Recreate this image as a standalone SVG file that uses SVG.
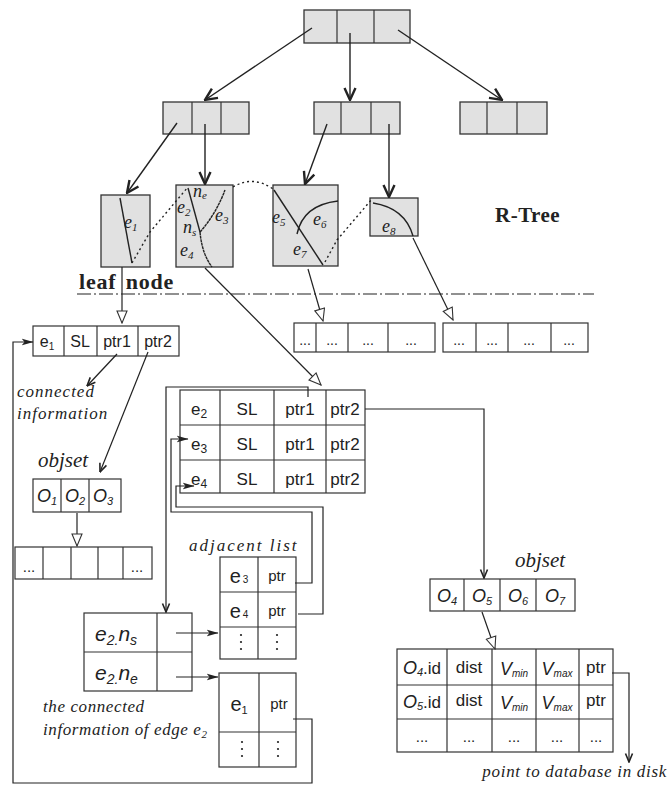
<svg xmlns="http://www.w3.org/2000/svg" width="668" height="786" viewBox="0 0 668 786">
<defs>
<style>
.tn{fill:#e1e1e1;stroke:#333;stroke-width:1.3}
.lf{fill:#e1e1e1;stroke:#333;stroke-width:1.3}
.tb{fill:#fff;stroke:#333;stroke-width:1.2}
.dv{stroke:#333;stroke-width:1.2}
.ln{fill:none;stroke:#222;stroke-width:1.2}
.tl{fill:none;stroke:#222;stroke-width:1.4}
.cv{fill:none;stroke:#222;stroke-width:1.4}
.dot{fill:none;stroke:#222;stroke-width:1.4;stroke-dasharray:2,3}
.ser{font-family:"Liberation Serif","Times New Roman",serif;font-style:italic;fill:#222}
.bold{font-family:"Liberation Serif","Times New Roman",serif;font-weight:bold;fill:#222}
.sans{font-family:"Liberation Sans",Arial,sans-serif;fill:#222}
.it{font-family:"Liberation Sans",Arial,sans-serif;font-style:italic;fill:#222}
</style>
<marker id="v" viewBox="0 0 14 14" refX="13" refY="7" markerWidth="14" markerHeight="14" orient="auto" markerUnits="userSpaceOnUse">
<path d="M1,1.5 L13,7 L1,12.5" fill="none" stroke="#222" stroke-width="2.4"/>
</marker>
<marker id="vs" viewBox="0 0 10 10" refX="9.5" refY="5" markerWidth="10" markerHeight="10" orient="auto" markerUnits="userSpaceOnUse">
<path d="M1,1.5 L9.5,5 L1,8.5" fill="none" stroke="#222" stroke-width="1.6"/>
</marker>
<marker id="f" viewBox="0 0 12 8" refX="11.5" refY="4" markerWidth="12" markerHeight="8" orient="auto" markerUnits="userSpaceOnUse">
<path d="M0,0.5 L12,4 L0,7.5 L3,4 z" fill="#222"/>
</marker>
<marker id="o" viewBox="0 0 14 12" refX="13" refY="6" markerWidth="14" markerHeight="12" orient="auto" markerUnits="userSpaceOnUse">
<path d="M1,1 L13,6 L1,11 z" fill="#fff" stroke="#333" stroke-width="1.1"/>
</marker>
</defs>
<rect width="668" height="786" fill="#fff"/>

<!-- R-tree nodes -->
<g id="root"><rect class="tn" x="304" y="10" width="106" height="33"/><line class="dv" x1="337" y1="10" x2="337" y2="43"/><line class="dv" x1="374" y1="10" x2="374" y2="43"/></g>
<g id="n1"><rect class="tn" x="163" y="102" width="86" height="32"/><line class="dv" x1="192" y1="102" x2="192" y2="134"/><line class="dv" x1="221" y1="102" x2="221" y2="134"/></g>
<g id="n2"><rect class="tn" x="314" y="102" width="86" height="32"/><line class="dv" x1="341" y1="102" x2="341" y2="134"/><line class="dv" x1="371" y1="102" x2="371" y2="134"/></g>
<g id="n3"><rect class="tn" x="460" y="102" width="87" height="32"/><line class="dv" x1="487" y1="102" x2="487" y2="134"/><line class="dv" x1="517" y1="102" x2="517" y2="134"/></g>

<!-- leaf nodes -->
<g id="leaf1"><rect class="lf" x="101" y="195" width="49" height="72"/>
<line class="cv" x1="120" y1="198" x2="132" y2="263"/>
<text class="ser" x="124" y="228" font-size="18">e<tspan font-size="11" dy="3">1</tspan></text></g>
<g id="leaf2"><rect class="lf" x="176" y="185" width="57" height="82"/>
<line class="cv" x1="188" y1="188" x2="200" y2="232"/>
<path class="cv" d="M200,232 Q216,214 225,190" stroke-dasharray="3,0.6"/>
<path class="cv" d="M200,232 Q202,254 212,267" stroke-dasharray="3,0.6"/>
<text class="ser" x="193" y="197" font-size="18">n<tspan font-size="11" dy="2">e</tspan></text>
<text class="ser" x="177" y="213" font-size="18">e<tspan font-size="11" dy="3">2</tspan></text>
<text class="ser" x="215" y="221" font-size="18">e<tspan font-size="11" dy="3">3</tspan></text>
<text class="ser" x="183" y="233" font-size="18">n<tspan font-size="11" dy="3">s</tspan></text>
<text class="ser" x="180" y="256" font-size="18">e<tspan font-size="11" dy="3">4</tspan></text></g>
<g id="leaf3"><rect class="lf" x="273" y="185" width="65" height="81"/>
<line class="cv" x1="274" y1="190" x2="323" y2="265"/>
<path class="cv" d="M297,234 Q303,205 338,201"/>
<text class="ser" x="272" y="223" font-size="18">e<tspan font-size="11" dy="3">5</tspan></text>
<text class="ser" x="313" y="225" font-size="18">e<tspan font-size="11" dy="3">6</tspan></text>
<text class="ser" x="293" y="255" font-size="18">e<tspan font-size="11" dy="3">7</tspan></text></g>
<g id="leaf4"><rect class="lf" x="370" y="198" width="48" height="38"/>
<path class="cv" d="M373,203 Q405,208 413,236"/>
<text class="ser" x="382" y="232" font-size="18">e<tspan font-size="11" dy="3">8</tspan></text></g>

<!-- labels -->
<text id="lbl-leaf" class="bold" x="79" y="289" font-size="22" letter-spacing="0.8" word-spacing="3">leaf node</text>
<text id="lbl-rtree" class="bold" x="495" y="222" font-size="21" letter-spacing="0.5">R-Tree</text>
<line x1="77" y1="294" x2="594" y2="294" stroke="#222" stroke-width="1.2" stroke-dasharray="14,3,2,3"/>

<!-- data blocks -->
<g id="blk1"><rect class="tb" x="294" y="323" width="141" height="29"/>
<line class="dv" x1="316" y1="323" x2="316" y2="352"/><line class="dv" x1="348" y1="323" x2="348" y2="352"/><line class="dv" x1="388" y1="323" x2="388" y2="352"/>
<g class="sans" font-size="14" text-anchor="middle"><text x="305" y="345">...</text><text x="332" y="345">...</text><text x="368" y="345">...</text><text x="411" y="345">...</text></g></g>
<g id="blk2"><rect class="tb" x="443" y="323" width="145" height="29"/>
<line class="dv" x1="476" y1="323" x2="476" y2="352"/><line class="dv" x1="508" y1="323" x2="508" y2="352"/><line class="dv" x1="551" y1="323" x2="551" y2="352"/>
<g class="sans" font-size="14" text-anchor="middle"><text x="459" y="345">...</text><text x="492" y="345">...</text><text x="529" y="345">...</text><text x="569" y="345">...</text></g></g>

<!-- e1 record -->
<g id="rec-e1"><rect class="tb" x="33" y="326" width="146" height="30"/>
<line class="dv" x1="64" y1="326" x2="64" y2="356"/><line class="dv" x1="97" y1="326" x2="97" y2="356"/><line class="dv" x1="138" y1="326" x2="138" y2="356"/>
<g class="sans" font-size="16" text-anchor="middle"><text x="47" y="347">e<tspan font-size="10" dy="3">1</tspan></text><text x="80" y="347">SL</text><text x="117" y="347">ptr1</text><text x="158" y="347">ptr2</text></g></g>
<text class="ser" x="17" y="397" font-size="17" letter-spacing="1">connected</text>
<text class="ser" x="17" y="419" font-size="17" letter-spacing="1">information</text>
<text class="ser" x="38" y="467" font-size="21">objset</text>

<g id="objset1"><rect class="tb" x="33" y="479" width="88" height="33"/>
<line class="dv" x1="61" y1="479" x2="61" y2="512"/><line class="dv" x1="89" y1="479" x2="89" y2="512"/>
<g class="it" font-size="18"><text x="37" y="502">O<tspan font-size="11" dy="3">1</tspan></text><text x="65" y="502">O<tspan font-size="11" dy="3">2</tspan></text><text x="93" y="502">O<tspan font-size="11" dy="3">3</tspan></text></g></g>
<g id="objlist"><rect class="tb" x="15" y="547" width="137" height="32"/>
<line class="dv" x1="43" y1="547" x2="43" y2="579"/><line class="dv" x1="71" y1="547" x2="71" y2="579"/><line class="dv" x1="98" y1="547" x2="98" y2="579"/><line class="dv" x1="123" y1="547" x2="123" y2="579"/>
<g class="sans" font-size="15" text-anchor="middle"><text x="29" y="572">...</text><text x="137" y="572">...</text></g></g>

<!-- middle table -->
<g id="rec-e234"><rect class="tb" x="180" y="390" width="185" height="103"/>
<line class="dv" x1="180" y1="425" x2="365" y2="425"/><line class="dv" x1="180" y1="460" x2="365" y2="460"/>
<line class="dv" x1="220" y1="390" x2="220" y2="493"/><line class="dv" x1="274" y1="390" x2="274" y2="493"/><line class="dv" x1="326" y1="390" x2="326" y2="493"/>
<g class="sans" font-size="17" text-anchor="middle">
<text x="199" y="415">e<tspan font-size="12" dy="3">2</tspan></text><text x="247" y="415">SL</text><text x="300" y="415">ptr1</text><text x="345" y="415">ptr2</text>
<text x="199" y="450">e<tspan font-size="12" dy="3">3</tspan></text><text x="247" y="450">SL</text><text x="300" y="450">ptr1</text><text x="345" y="450">ptr2</text>
<text x="199" y="485">e<tspan font-size="12" dy="3">4</tspan></text><text x="247" y="485">SL</text><text x="300" y="485">ptr1</text><text x="345" y="485">ptr2</text>
</g></g>

<text class="ser" x="189" y="551" font-size="17" letter-spacing="2">adjacent list</text>

<g id="adj1"><rect class="tb" x="220" y="557" width="76" height="102"/>
<line class="dv" x1="220" y1="592" x2="296" y2="592"/><line class="dv" x1="220" y1="627" x2="296" y2="627"/><line class="dv" x1="258" y1="557" x2="258" y2="659"/>
<g class="sans" text-anchor="middle"><text x="239" y="583" font-size="20">e<tspan font-size="10" dx="2">3</tspan></text><text x="277" y="581" font-size="15">ptr</text>
<text x="239" y="618" font-size="20">e<tspan font-size="10" dx="2">4</tspan></text><text x="277" y="616" font-size="15">ptr</text></g>
<g fill="#222"><circle cx="241" cy="635" r="1.1"/><circle cx="241" cy="642" r="1.1"/><circle cx="241" cy="649" r="1.1"/><circle cx="277" cy="635" r="1.1"/><circle cx="277" cy="642" r="1.1"/><circle cx="277" cy="649" r="1.1"/></g></g>

<g id="e2nodes"><rect class="tb" x="84" y="613" width="108" height="78"/>
<line class="dv" x1="84" y1="652" x2="192" y2="652"/><line class="dv" x1="157" y1="613" x2="157" y2="691"/>
<g class="it" font-size="21"><text x="95" y="641">e<tspan font-size="14" dy="4">2.</tspan><tspan dy="-4">n</tspan><tspan font-size="14" dy="4">s</tspan></text>
<text x="95" y="680">e<tspan font-size="14" dy="4">2.</tspan><tspan dy="-4">n</tspan><tspan font-size="14" dy="4">e</tspan></text></g></g>

<g id="adj2"><rect class="tb" x="219" y="673" width="77" height="94"/>
<line class="dv" x1="219" y1="732" x2="296" y2="732"/><line class="dv" x1="259" y1="673" x2="259" y2="767"/>
<g class="sans" text-anchor="middle"><text x="239" y="711" font-size="20">e<tspan font-size="11" dy="3">1</tspan></text><text x="279" y="709" font-size="15">ptr</text></g>
<g fill="#222"><circle cx="242" cy="742" r="1.1"/><circle cx="242" cy="749" r="1.1"/><circle cx="242" cy="756" r="1.1"/><circle cx="278" cy="742" r="1.1"/><circle cx="278" cy="749" r="1.1"/><circle cx="278" cy="756" r="1.1"/></g></g>

<text class="ser" x="43" y="712" font-size="17" letter-spacing="0.6">the connected</text>
<text class="ser" x="43" y="735" font-size="17" letter-spacing="0.6">information of edge e<tspan font-size="11" dy="3">2</tspan></text>

<!-- right side -->
<text class="ser" x="515" y="567" font-size="21">objset</text>
<g id="objset2"><rect class="tb" x="430" y="579" width="145" height="32"/>
<line class="dv" x1="464" y1="579" x2="464" y2="611"/><line class="dv" x1="500" y1="579" x2="500" y2="611"/><line class="dv" x1="536" y1="579" x2="536" y2="611"/>
<g class="it" font-size="18" text-anchor="middle"><text x="447" y="602">O<tspan font-size="11" dy="3">4</tspan></text><text x="482" y="602">O<tspan font-size="11" dy="3">5</tspan></text><text x="518" y="602">O<tspan font-size="11" dy="3">6</tspan></text><text x="555" y="602">O<tspan font-size="11" dy="3">7</tspan></text></g></g>

<g id="objtable"><rect class="tb" x="397" y="649" width="216" height="103"/>
<line class="dv" x1="397" y1="685" x2="613" y2="685"/><line class="dv" x1="397" y1="719" x2="613" y2="719"/>
<line class="dv" x1="447" y1="649" x2="447" y2="752"/><line class="dv" x1="492" y1="649" x2="492" y2="752"/><line class="dv" x1="536" y1="649" x2="536" y2="752"/><line class="dv" x1="579" y1="649" x2="579" y2="752"/>
<g class="sans" font-size="17" text-anchor="middle">
<text x="422" y="674"><tspan font-style="italic" font-size="18">O</tspan><tspan font-size="11" dy="2" font-style="italic">4</tspan><tspan dy="-2">.id</tspan></text>
<text x="469" y="673">dist</text>
<text x="514" y="675"><tspan font-style="italic" font-size="18">V</tspan><tspan font-style="italic" font-size="10" dy="2">min</tspan></text>
<text x="557" y="675"><tspan font-style="italic" font-size="18">V</tspan><tspan font-style="italic" font-size="10" dy="2">max</tspan></text>
<text x="596" y="673">ptr</text>
<text x="422" y="708"><tspan font-style="italic" font-size="18">O</tspan><tspan font-size="11" dy="2" font-style="italic">5</tspan><tspan dy="-2">.id</tspan></text>
<text x="469" y="706">dist</text>
<text x="514" y="709"><tspan font-style="italic" font-size="18">V</tspan><tspan font-style="italic" font-size="10" dy="2">min</tspan></text>
<text x="557" y="709"><tspan font-style="italic" font-size="18">V</tspan><tspan font-style="italic" font-size="10" dy="2">max</tspan></text>
<text x="596" y="706">ptr</text>
<text x="422" y="742" font-size="15">...</text><text x="469" y="742" font-size="15">...</text><text x="514" y="742" font-size="15">...</text><text x="557" y="742" font-size="15">...</text><text x="596" y="742" font-size="15">...</text>
</g></g>
<text class="ser" x="667" y="777" font-size="17" letter-spacing="0.7" text-anchor="end">point to database in disk</text>

<!-- connectors -->
<g id="connectors">
<line class="tl" x1="312" y1="28" x2="205" y2="100" marker-end="url(#v)"/>
<line class="tl" x1="350" y1="33" x2="350" y2="100" marker-end="url(#v)"/>
<line class="tl" x1="398" y1="30" x2="502" y2="100" marker-end="url(#v)"/>
<line class="tl" x1="177" y1="123" x2="127" y2="193" marker-end="url(#v)"/>
<line class="tl" x1="205" y1="124" x2="205" y2="184" marker-end="url(#v)"/>
<line class="tl" x1="327" y1="124" x2="305" y2="184" marker-end="url(#v)"/>
<line class="tl" x1="389" y1="124" x2="389" y2="197" marker-end="url(#v)"/>
<path class="dot" d="M132,263 L150,232 L188,187"/>
<path class="dot" d="M233,187 Q253,175 273,189"/>
<path class="dot" d="M325,262 L337,240 L372,199"/>
<line class="ln" x1="122" y1="267" x2="122" y2="323" marker-end="url(#o)"/>
<line class="ln" x1="205" y1="268" x2="321" y2="385" marker-end="url(#o)"/>
<line class="ln" x1="308" y1="269" x2="323" y2="321" marker-end="url(#o)"/>
<line class="ln" x1="413" y1="238" x2="453" y2="320" marker-end="url(#o)"/>
<line class="ln" x1="117" y1="354" x2="87" y2="386" marker-end="url(#vs)"/>
<line class="ln" x1="148" y1="352" x2="100" y2="472" marker-end="url(#vs)"/>
<line class="ln" x1="77" y1="513" x2="77" y2="546" marker-end="url(#o)"/>
<path class="ln" d="M293,719 H312 V783 H13 V342 H33" marker-end="url(#f)"/>
<path class="ln" d="M308,397 V387 H166 V612" marker-end="url(#vs)"/>
<path class="ln" d="M365,409 H484 V578" marker-end="url(#vs)"/>
<path class="ln" d="M295,583 H312 V512 H171 V439 H188" marker-end="url(#f)"/>
<path class="ln" d="M298,614 H323 V507 H176 V486 H194" marker-end="url(#f)"/>
<line class="ln" x1="176" y1="633" x2="218" y2="633" marker-end="url(#f)"/>
<line class="ln" x1="176" y1="677" x2="218" y2="677" marker-end="url(#f)"/>
<line class="ln" x1="482" y1="612" x2="495" y2="649" marker-end="url(#o)"/>
<path class="ln" d="M612,673 H629 V762" marker-end="url(#vs)"/>
</g>
</svg>
